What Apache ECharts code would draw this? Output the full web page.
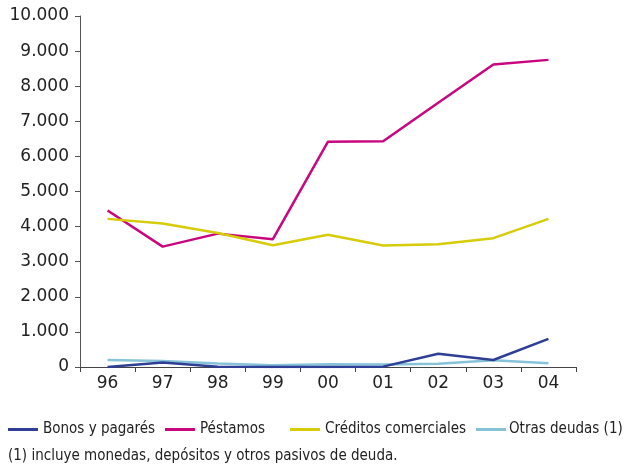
<!DOCTYPE html>
<html>
<head>
<meta charset="utf-8">
<script src="https://cdn.jsdelivr.net/npm/echarts@6/dist/echarts.min.js"></script>
<style>
html,body{margin:0;padding:0;background:#fff;}
#c{width:625px;height:464px;}
</style>
</head>
<body>
<div id="c"></div>
<script>
var categories = ['96','97','98','99','00','01','02','03','04'];
var bonos = [0, 130, 10, 0, 0, 10, 380, 200, 800];
var prestamos = [4460, 3430, 3800, 3640, 6420, 6430, 7530, 8620, 8750];
var creditos = [4220, 4090, 3820, 3470, 3770, 3460, 3500, 3670, 4220];
var otras = [200, 170, 100, 50, 80, 70, 90, 190, 110];
var yTicks = [0, 1000, 2000, 3000, 4000, 5000, 6000, 7000, 8000, 9000, 10000];
var seriesNames = ['Bonos y pagarés', 'Péstamos', 'Créditos comerciales', 'Otras deudas (1)'];
var colors = ['#2f3f95', '#c8067e', '#d6cc0a', '#86c3d8'];
var footnote = '(1) incluye monedas, depósitos y otros pasivos de deuda.';

var FONT = '"Liberation Sans Narrow", "DejaVu Sans Condensed", "Open Sans", sans-serif';
var AXFONT = '"DejaVu Sans", "Open Sans", sans-serif';
var chart = echarts.init(document.getElementById('c'));
var dataSets = [bonos, prestamos, creditos, otras];
var legendLefts = [8, 165, 290, 476];

function fmt(v){
  return String(v).replace(/\B(?=(\d{3})+(?!\d))/g, '.');
}

var option = {
  animation: false,
  backgroundColor: '#ffffff',
  grid: {left: 80, right: 49, top: 16, bottom: 97, containLabel: false},
  legend: seriesNames.map(function(n, i){
    return {
      data: [n], left: legendLefts[i], top: 422, padding: 0,
      itemWidth: 30, itemHeight: 3, itemGap: 0,
      icon: 'rect',
      textStyle: {fontFamily: FONT, fontSize: 15, color: '#222', padding: [0,0,0,(i === 3 ? -2 : 0)]}
    };
  }),
  xAxis: {
    type: 'category',
    data: categories,
    boundaryGap: true,
    axisLine: {lineStyle: {color: '#444', width: 1}},
    axisTick: {show: true, length: 5, inside: false, lineStyle: {color: '#444'}},
    axisLabel: {fontFamily: AXFONT, fontSize: 17, color: '#222', margin: 8}
  },
  yAxis: {
    type: 'value',
    min: 0, max: 10000, interval: 1000,
    axisLine: {show: true, lineStyle: {color: '#555', width: 1}},
    axisTick: {show: true, length: 5, lineStyle: {color: '#555'}},
    splitLine: {show: false},
    axisLabel: {fontFamily: AXFONT, fontSize: 17, color: '#222', margin: 11,
      formatter: function(v){ return fmt(v); }}
  },
  series: seriesNames.map(function(n, i){
    return {
      name: n, type: 'line', data: dataSets[i],
      symbol: 'none', smooth: false,
      lineStyle: {color: colors[i], width: 2.5},
      itemStyle: {color: colors[i]},
      z: i === 0 ? 5 : 2
    };
  }),
  graphic: [{
    type: 'text', left: 8, top: 449,
    style: {text: footnote, font: '15px ' + FONT, fill: '#222'}
  }]
};
chart.setOption(option);
</script>
</body>
</html>
